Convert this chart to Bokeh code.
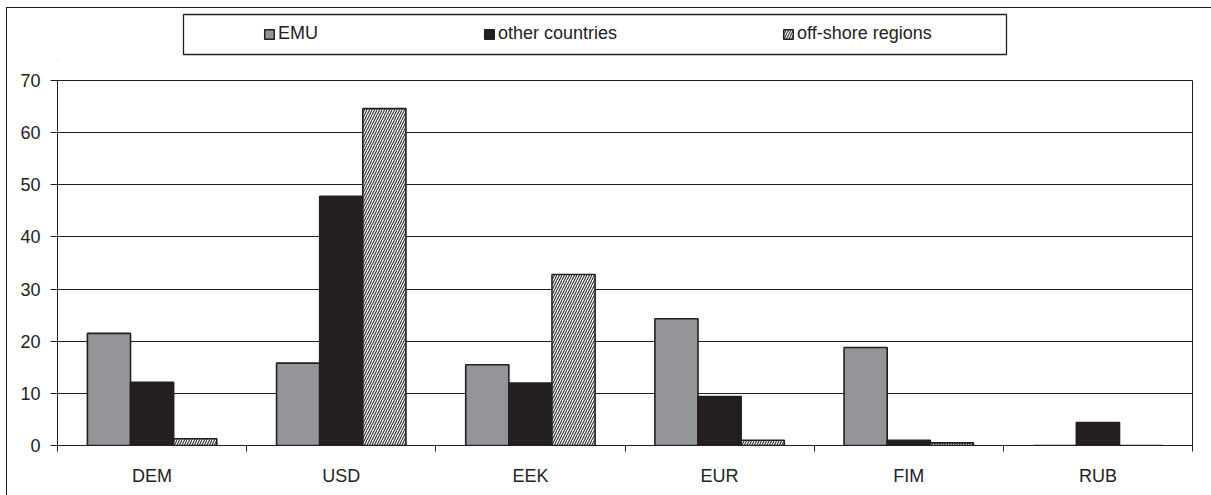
from bokeh.plotting import figure
from bokeh.models import FixedTicker, Legend, LegendItem, Range1d, Column, BoxAnnotation
from bokeh.embed import file_html
from bokeh.resources import INLINE
import numpy as np

categories = ["DEM", "USD", "EEK", "EUR", "FIM", "RUB"]
series_names = ["EMU", "other countries", "off-shore regions"]
emu = [21.5, 15.8, 15.5, 24.3, 18.8, 0.0]
other_countries = [12.1, 47.8, 12.0, 9.4, 1.0, 4.4]
offshore_regions = [1.3, 64.6, 32.8, 1.0, 0.5, 0.0]
y_ticks = [0, 10, 20, 30, 40, 50, 60, 70]

FONT = "Liberation Sans"
FS = "18px"
DARK = "#231f20"
GREY = "#939598"
HATCH = dict(hatch_pattern="/", hatch_color="#3a3a3a", hatch_scale=5, hatch_weight=1.2)

OX, OY = 7, 8          # content origin inside the outer chart border
INNER_W = 1211 - OX
FRAME_L, FRAME_R = 57, 1192
MAIN_TOP = 60

# ---------------- main chart ----------------
p = figure(width=INNER_W, height=495 - MAIN_TOP, output_backend="svg", toolbar_location=None,
           x_range=Range1d(0, len(categories)), y_range=Range1d(0, 70),
           min_border_left=FRAME_L - OX, min_border_right=1211 - FRAME_R,
           min_border_top=80 - MAIN_TOP, min_border_bottom=495 - 445)
p.background_fill_color = "white"
p.border_fill_color = "white"
p.outline_line_color = DARK
p.outline_line_width = 1

centers = np.arange(len(categories)) + 0.5
bw = 0.228
common = dict(width=bw, bottom=0, line_color=DARK, line_width=1.6)
p.vbar(x=centers - bw, top=emu, fill_color=GREY, **common)
p.vbar(x=centers, top=other_countries, fill_color=DARK, **common)
p.vbar(x=centers + bw, top=offshore_regions, fill_color="white", **HATCH, **common)

xa = p.xaxis[0]
xa.ticker = FixedTicker(ticks=list(centers), minor_ticks=list(range(len(categories) + 1)))
xa.major_label_overrides = {float(c): n for c, n in zip(centers, categories)}
xa.major_tick_out = 0
xa.major_tick_in = 0
xa.minor_tick_out = 6
xa.minor_tick_in = 0
xa.minor_tick_line_color = DARK
xa.axis_line_color = DARK
xa.major_label_text_font = FONT
xa.major_label_text_font_size = FS
xa.major_label_text_color = "#222222"
xa.major_label_standoff = 14

ya = p.yaxis[0]
ya.ticker = FixedTicker(ticks=y_ticks)
ya.major_tick_out = 7
ya.major_tick_in = 0
ya.minor_tick_out = 0
ya.minor_tick_in = 0
ya.major_tick_line_color = DARK
ya.axis_line_color = DARK
ya.major_label_text_font = FONT
ya.major_label_text_font_size = FS
ya.major_label_text_color = "#222222"
ya.major_label_standoff = 10

p.xgrid.grid_line_color = None
p.ygrid.grid_line_color = DARK
p.ygrid.grid_line_width = 1
p.ygrid.ticker = FixedTicker(ticks=y_ticks)

# ---------------- legend strip (frame aligned with the chart frame) ----------------
LH = MAIN_TOP - OY
FW = FRAME_R - FRAME_L
lf = figure(width=INNER_W, height=LH, output_backend="svg", toolbar_location=None,
            x_axis_type=None, y_axis_type=None, x_range=Range1d(0, FW), y_range=Range1d(0, LH),
            min_border_left=FRAME_L - OX, min_border_right=1211 - FRAME_R,
            min_border_top=0, min_border_bottom=0)
lf.grid.visible = False
lf.background_fill_color = "white"
lf.border_fill_color = "white"
lf.outline_line_color = None

# legend box
lf.add_layout(BoxAnnotation(left=183 - FRAME_L, right=1006 - FRAME_L,
                            top=MAIN_TOP - 14, bottom=MAIN_TOP - 54,
                            fill_color="white", fill_alpha=1,
                            line_color=DARK, line_alpha=1, line_width=1.3,
                            level="underlay"))

# swatch renderers for the legend (kept outside the visible range)
swatch = dict(x=[-100], top=[0], width=1, bottom=0, line_color=DARK, line_width=1.5)
l1 = lf.vbar(fill_color=GREY, **swatch)
l2 = lf.vbar(fill_color=DARK, **swatch)
l3 = lf.vbar(fill_color="white", **HATCH, **swatch)

legend = Legend(items=[LegendItem(label=series_names[0], renderers=[l1]),
                       LegendItem(label=series_names[1], renderers=[l2]),
                       LegendItem(label=series_names[2], renderers=[l3])],
                orientation="horizontal", location=(263 - FRAME_L, 16),
                border_line_alpha=0, background_fill_alpha=0, padding=0, margin=0,
                spacing=165, glyph_width=12, glyph_height=12, label_standoff=3,
                label_text_font=FONT, label_text_font_size=FS, label_text_color="#222222")
lf.add_layout(legend, "center")

layout = Column(children=[lf, p], spacing=0, margin=(OY - 1, 0, 0, OX - 1),
                styles={"border-left": "1px solid #231f20", "border-top": "1px solid #231f20"})

open("out.html", "w").write(file_html(layout, INLINE))
